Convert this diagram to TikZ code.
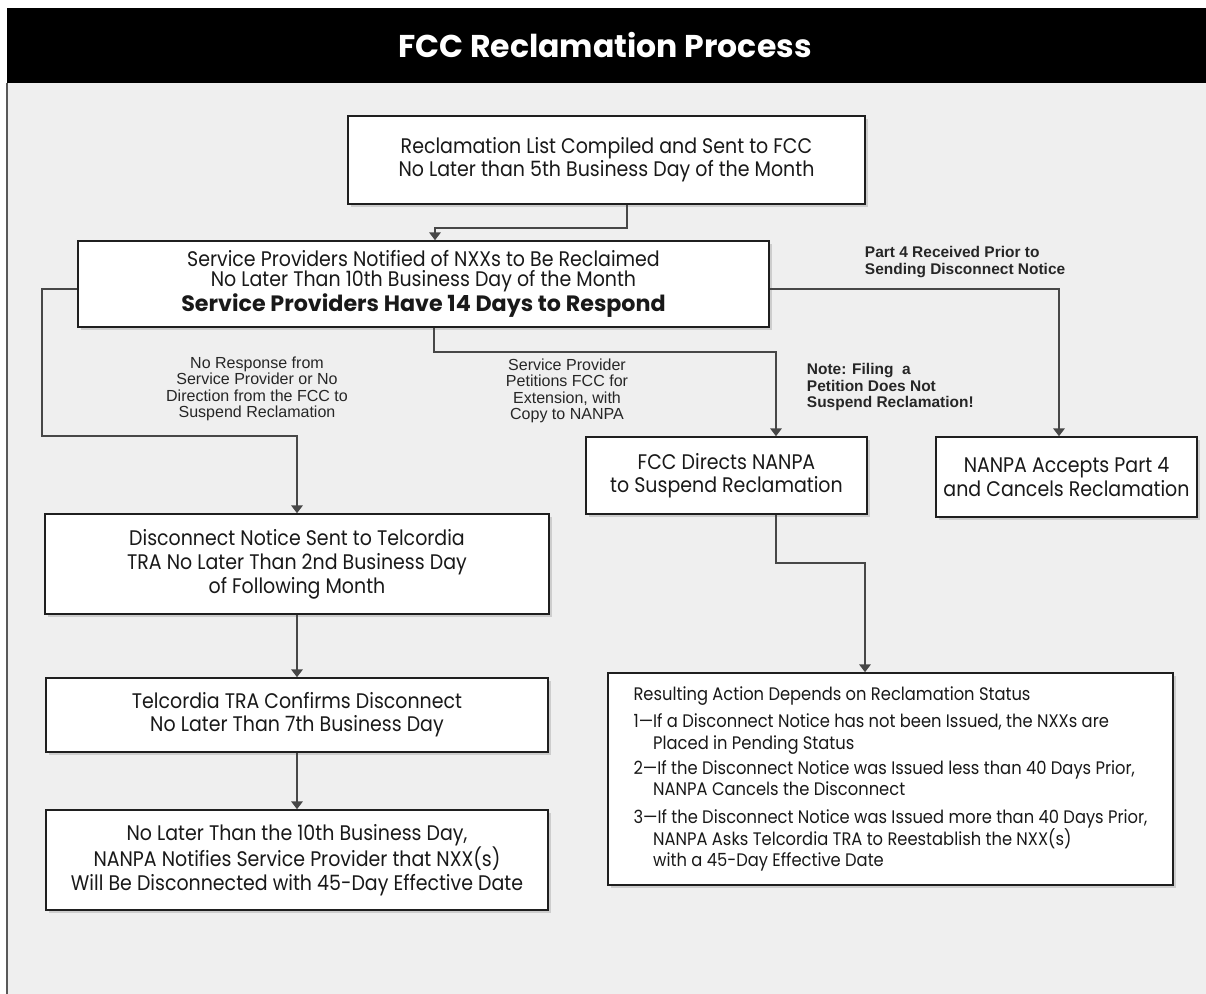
\documentclass[tikz,border=0pt]{standalone}
\usepackage{fontspec}
\usetikzlibrary{arrows.meta,shadows}

\newfontfamily\futura[FakeStretch=0.9]{Poppins}
\newfontfamily\futurawide{Poppins}
\newfontfamily\helv{Liberation Sans}

\definecolor{bggray}{gray}{0.937}
\definecolor{framegray}{gray}{0.35}
\definecolor{linegray}{gray}{0.28}
\definecolor{boxline}{gray}{0.12}

\newcommand{\stepgap}{\phantom{1—}}

\tikzset{
	box/.style={draw=boxline, line width=1.1pt, fill=white, align=center, text=black!90,
		font=\futura\fontsize{15}{16.5}\selectfont,
		drop shadow={shadow xshift=2pt, shadow yshift=-2pt, opacity=0.3}},
	conn/.style={draw=linegray, line width=1.3pt, -{Triangle[width=8pt,length=5.5pt]}},
	lbl/.style={align=center, text=black!85, font=\helv\fontsize{11.4}{11.6}\selectfont},
	boldlbl/.style={align=left, text=black!85, font=\helv\bfseries\fontsize{11}{11.6}\selectfont},
}

\begin{document}
\begin{tikzpicture}[x=0.025cm, y=-0.025cm]
	\useasboundingbox (0,0) rectangle (1206,994);
	\fill[white] (0,0) rectangle (1206,994);
	\fill[bggray] (7,83) rectangle (1206,994);		% page
	\fill[black] (7,8) rectangle (1206,83);			% title bar
	\draw[framegray, line width=1.2pt] (7,83) -- (7,994);
	\node[anchor=base, text=white, font=\futurawide\bfseries\fontsize{22.4}{24}\selectfont] (title) at (605,57) {FCC Reclamation Process};

	% boxes
	\node[box, minimum width=12.925cm, minimum height=2.2cm] (list) at (606.5,160)
		{Reclamation List Compiled and Sent to FCC\\No Later than 5th Business Day of the Month};
	\node[box, minimum width=17.275cm, minimum height=2.15cm, font=\futura\fontsize{15}{14.4}\selectfont] (notify) at (423.5,284)
		{Service Providers Notified of NXXs to Be Reclaimed\\No Later Than 10th Business Day of the Month\\{\futurawide\bfseries\fontsize{15.8}{14.4}\selectfont Service Providers Have 14 Days to Respond}};
	\node[box, minimum width=7.025cm, minimum height=1.925cm] (suspend) at (726.5,475.5)
		{FCC Directs NANPA\\to Suspend Reclamation};
	\node[box, minimum width=6.525cm, minimum height=2cm] (accept) at (1066.5,477)
		{NANPA Accepts Part 4\\and Cancels Reclamation};
	\node[box, minimum width=12.6cm, minimum height=2.5cm, font=\futura\fontsize{15}{17}\selectfont] (disc) at (297,564)
		{Disconnect Notice Sent to Telcordia\\TRA No Later Than 2nd Business Day\\of Following Month};
	\node[box, minimum width=12.55cm, minimum height=1.85cm] (confirm) at (297,715)
		{Telcordia TRA Confirms Disconnect\\No Later Than 7th Business Day};
	\node[box, minimum width=12.55cm, minimum height=2.5cm] (notice) at (297,860)
		{No Later Than the 10th Business Day,\\NANPA Notifies Service Provider that NXX(s)\\Will Be Disconnected with 45-Day Effective Date};
	\node[box, minimum width=14.125cm, minimum height=5.3cm, align=left, font=\futura\fontsize{12.9}{15.5}\selectfont] (result) at (890.5,779)
		{Resulting Action Depends on Reclamation Status\\[4pt]
		1—If a Disconnect Notice has not been Issued, the NXXs are\\
		\stepgap Placed in Pending Status\\[2pt]
		2—If the Disconnect Notice was Issued less than 40 Days Prior,\\
		\stepgap NANPA Cancels the Disconnect\\[4pt]
		3—If the Disconnect Notice was Issued more than 40 Days Prior,\\
		\stepgap NANPA Asks Telcordia TRA to Reestablish the NXX(s)\\
		\stepgap with a 45-Day Effective Date};

	% bend points
	\coordinate (b1) at (627,228);
	\coordinate (b2) at (435,228);
	\coordinate (l1) at (42,289);
	\coordinate (l2) at (297,436);
	\coordinate (m1) at (434,352);
	\coordinate (m2) at (776,352);
	\coordinate (r1) at (1059,289);
	\coordinate (s1) at (776,563);
	\coordinate (s2) at (865,563);

	% connectors
	\draw[conn] (list.south -| b1) -- (b1) -- (b2) -- (notify.north -| b2);
	\draw[conn] (notify.west |- l1) -- (l1) |- (l2) -- (disc.north);
	\draw[conn] (notify.south -| m1) |- (m2) -- (suspend.north -| m2);
	\draw[conn] (notify.east |- r1) -- (r1) -- (accept.north -| r1);
	\draw[conn] (suspend.south -| s1) -- (s1) -| (result.north -| s2);
	\draw[conn] (disc.south) -- (confirm.north);
	\draw[conn] (confirm.south) -- (notice.north);

	% labels
	\node[lbl] (noresp) at (257,389) {No Response from\\Service Provider or No\\Direction from the FCC to\\Suspend Reclamation};
	\node[lbl] (petition) at (567,391) {Service Provider\\Petitions FCC for\\Extension, with\\Copy to NANPA};
	\node[boldlbl, anchor=west] (filing) at (802,387) {Note: Filing\ \ a\\Petition Does Not\\Suspend Reclamation!};
	\node[boldlbl, anchor=west] (part4) at (860,262) {Part 4 Received Prior to\\Sending Disconnect Notice};
\end{tikzpicture}
\end{document}
